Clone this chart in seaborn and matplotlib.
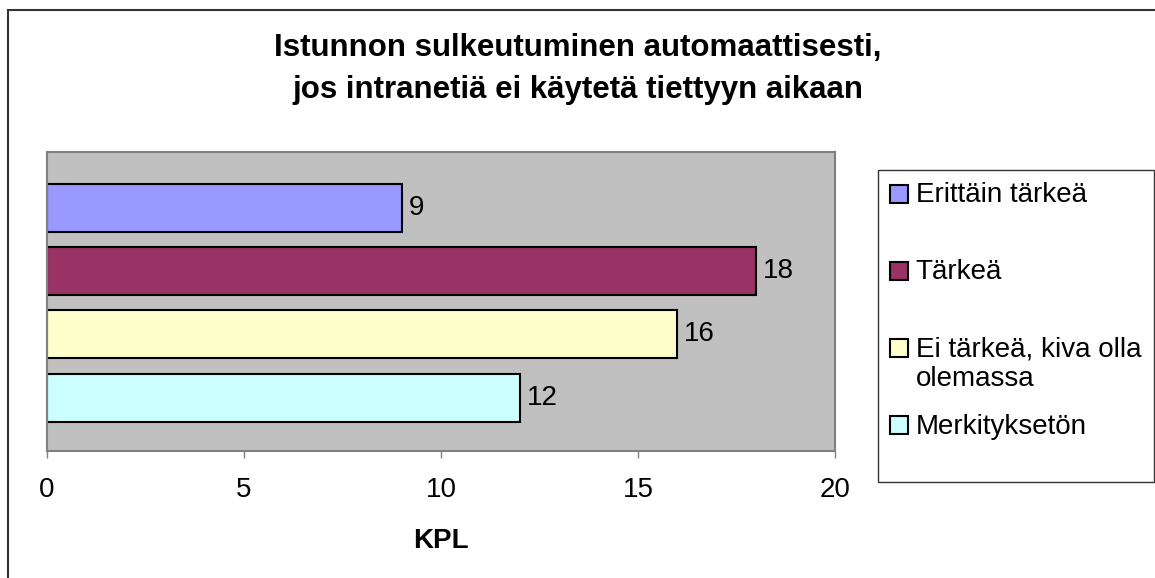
import matplotlib
matplotlib.use("Agg")
import matplotlib.pyplot as plt
import seaborn as sns
import pandas as pd
from matplotlib.patches import Rectangle

# Survey answers (count of respondents)
series = ["Erittäin tärkeä", "Tärkeä", "Ei tärkeä, kiva olla olemassa", "Merkityksetön"]
legend_labels = ["Erittäin tärkeä", "Tärkeä", "Ei tärkeä, kiva olla\nolemassa", "Merkityksetön"]
values = [9, 18, 16, 12]
colors = ["#9999FF", "#993366", "#FFFFCC", "#CCFFFF"]
x_ticks = [0, 5, 10, 15, 20]
title = "Istunnon sulkeutuminen automaattisesti,\njos intranetiä ei käytetä tiettyyn aikaan"
x_label = "KPL"

sns.set_style("white")
plt.rcParams["font.family"] = ["Liberation Sans", "DejaVu Sans"]
plt.rcParams["text.color"] = "black"
plt.rcParams["axes.labelcolor"] = "black"

FS = 20
W, H = 1155, 578
df = pd.DataFrame({"vastaus": series, "kpl": values})
palette = dict(zip(series, colors))

fig = plt.figure(figsize=(W / 100, H / 100), dpi=100)
ax = fig.add_axes([47 / W, 1 - 451 / H, (835 - 47) / W, (451 - 152) / H])

sns.barplot(data=df, x="kpl", y="vastaus", hue="vastaus", order=series,
            hue_order=series, palette=palette, saturation=1, width=0.76,
            edgecolor="black", linewidth=1.5, legend=False, orient="h", ax=ax)

for cont in ax.containers:
    ax.bar_label(cont, padding=5, fontsize=FS, color="black")

ax.set_facecolor("#C0C0C0")
ax.set_xlim(0, 20)
ax.set_ylim(3.846, -0.886)
ax.set_yticks([])
ax.set_ylabel("")
ax.set_xticks(x_ticks)
ax.tick_params(axis="x", direction="out", length=5, width=1, color="#808080",
               labelcolor="black", pad=13.5, labelsize=FS, bottom=True)
for s in ax.spines.values():
    s.set_color("#808080")
    s.set_linewidth(1.5)
ax.set_xlabel(x_label, fontsize=FS, fontweight="bold", labelpad=18.5)

# Legend: every entry gets two text rows so the first rows sit on an even
# pitch; the swatch is then lifted to the first row.
padded = [lab if "\n" in lab else lab + "\n " for lab in legend_labels]
handles = [Rectangle((0, 0), 1, 1, facecolor=c, edgecolor="black", linewidth=1.5)
           for c in colors]
leg = fig.legend(handles, padded, loc="upper left",
                 bbox_to_anchor=(878 / W, 1 - 170 / H), frameon=True,
                 fancybox=False, edgecolor="black", fontsize=FS,
                 handlelength=0.65, handleheight=0.65, handletextpad=0.27,
                 labelspacing=0.76, borderpad=0.44, borderaxespad=0)
leg.get_frame().set_linewidth(1)
for hnd in leg.legend_handles:
    hnd.set_y(hnd.get_y() + 0.6 * FS)

fig.text(0.5, 1 - 69 / H, title, ha="center", va="center", fontsize=22.5,
         fontweight="bold", linespacing=1.56)

fig.patches.append(Rectangle((8 / W, -0.5), 2, 0.5 + 1 - 10 / H,
                             transform=fig.transFigure, fill=False,
                             edgecolor="#333333", linewidth=1.5))

fig.savefig("out.png", dpi=100)
